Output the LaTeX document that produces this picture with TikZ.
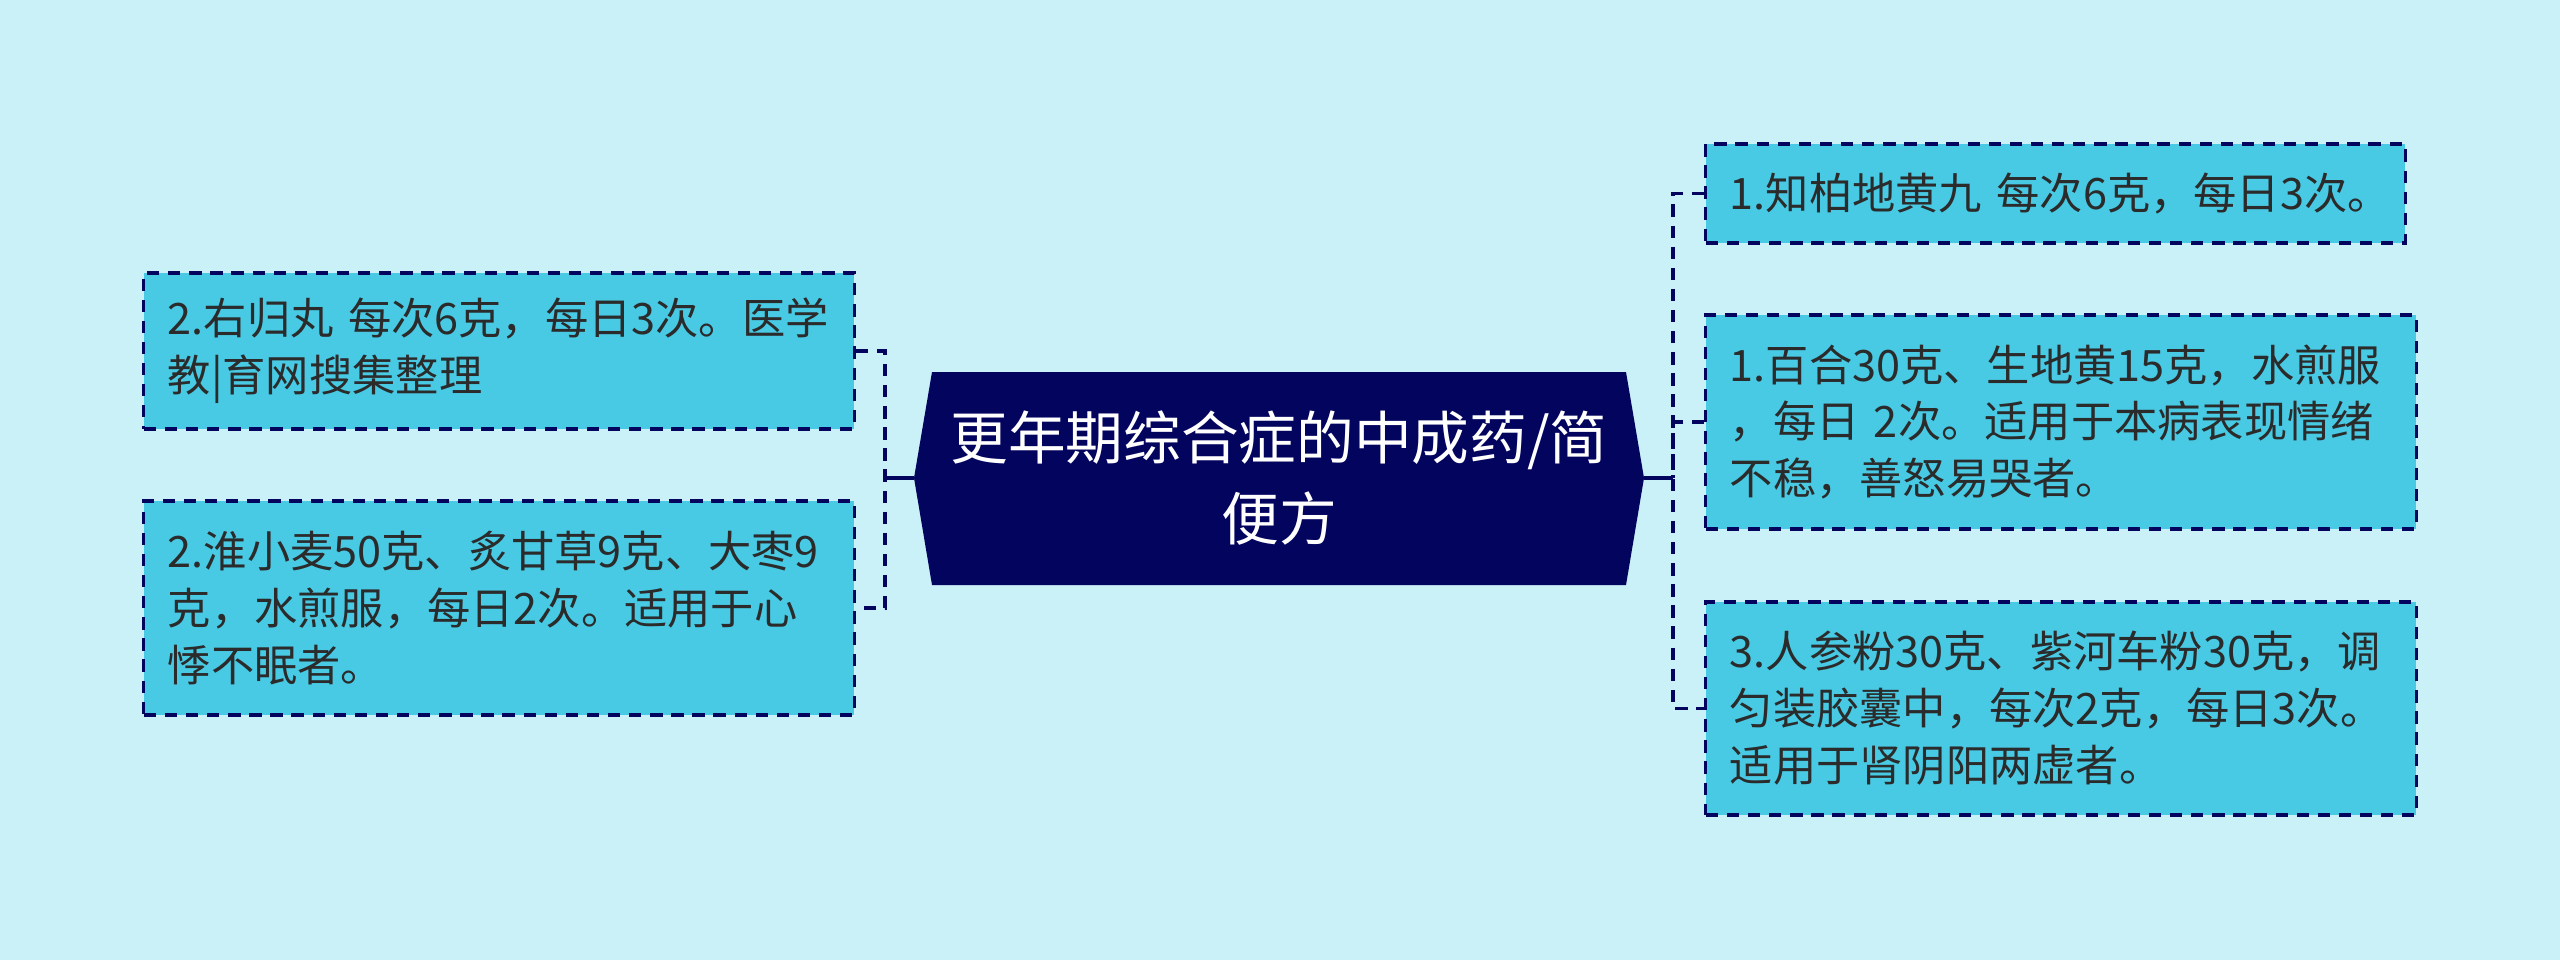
\documentclass[tikz,border=0pt]{standalone}
\usepackage{fontspec}
\setmainfont{Noto Sans CJK SC}
\usepackage{tikz}
\usetikzlibrary{positioning}
\definecolor{bgcyan}{HTML}{CAF0F8}
\definecolor{boxcyan}{HTML}{48CAE4}
\definecolor{navy}{HTML}{03045E}
\definecolor{leaftext}{HTML}{2B2B2B}

\begin{document}
\begin{tikzpicture}[x=0.01cm, y=-0.01cm]
 \tikzset{leaf/.style={draw=navy, fill=boxcyan, line width=0.9pt,
        dash pattern=on 3.5pt off 2.5pt, text=leaftext, align=left,
        text width=6.62cm, inner xsep=0.24cm, minimum height=#1,
        font=\fontsize{12.3pt}{16.2pt}\selectfont}}
 \tikzset{link/.style={draw=navy, line width=1pt, dash pattern=on 3.5pt off 2.5pt}}
 \tikzset{trunk/.style={draw=navy, line width=1pt}}
 \fill[bgcyan] (0,0) rectangle (2560,960);

 % centre
 \coordinate (rootW) at (914,478);
 \coordinate (rootE) at (1644,478);
 \fill[navy] (rootW) -- (932,372) -- (1626,372) -- (rootE) -- (1626,585) -- (932,585) -- cycle;
 \node[text=white, align=center, font=\fontsize{16.4pt}{23.3pt}\selectfont]
    (root) at (1279,478) {更年期综合症的中成药/简\\便方};

 % left
 \node[leaf=1.56cm] (L1) at (499,351) {2.右归丸 每次6克，每日3次。医学\\教|育网搜集整理};
 \node[leaf=2.14cm] (L2) at (499,608) {2.淮小麦50克、炙甘草9克、大枣9\\克，水煎服，每日2次。适用于心\\悸不眠者。};
 \coordinate (jL) at (885,478);
 \draw[trunk] (rootW) -- (jL);
 \draw[link] (L1.east) -| (jL) |- (L2.east);

 % right
 \node[leaf=0.99cm, text width=6.51cm] (R1) at (2055.5,193.5) {1.知柏地黄九~每次6克，每日3次。};
 \node[leaf=2.14cm] (R2) at (2061,422) {1.百合30克、生地黄15克，水煎服\\，每日 2次。适用于本病表现情绪\\不稳，善怒易哭者。};
 \node[leaf=2.13cm] (R3) at (2061,708.5) {3.人参粉30克、紫河车粉30克，调\\匀装胶囊中，每次2克，每日3次。\\适用于肾阴阳两虚者。};
 \coordinate (jR) at (1673,478);
 \draw[trunk] (rootE) -- (jR);
 \draw[link] (R1.west) -| (jR) |- (R3.west);
 \draw[link] (R2.west) -| (jR);
\end{tikzpicture}
\end{document}
